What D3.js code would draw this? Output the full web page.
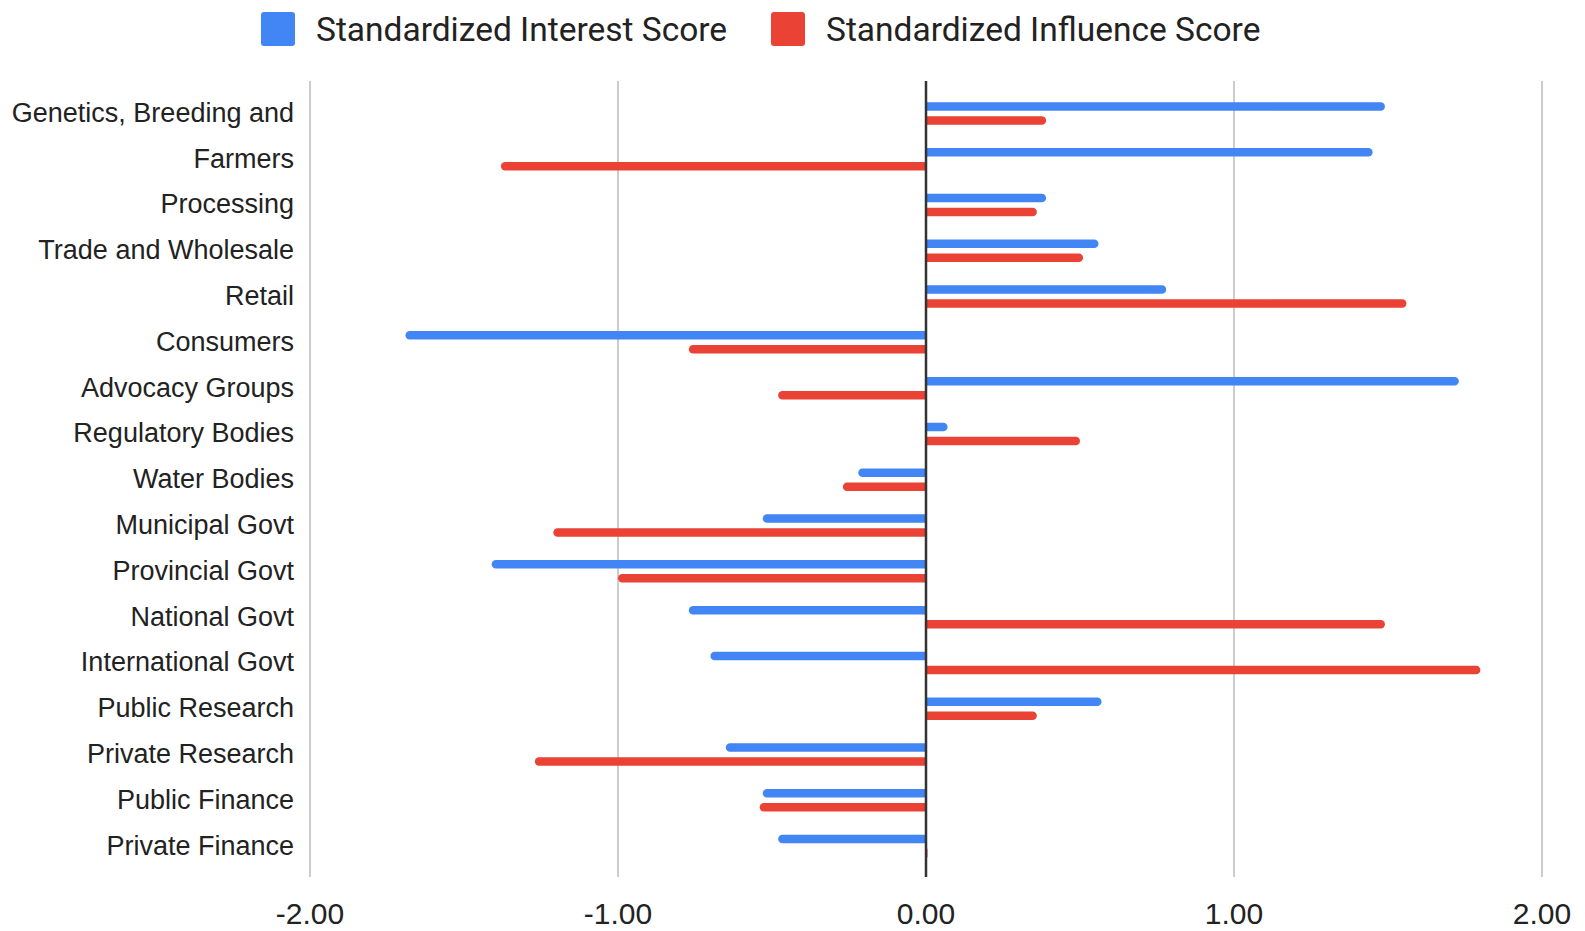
<!DOCTYPE html>
<html>
<head>
<meta charset="utf-8">
<script src="https://cdn.jsdelivr.net/npm/d3@7"></script>
<style>
  body { margin: 0; background: #fff; }
  svg { display: block; }
</style>
</head>
<body>
<div id="chart"></div>
<script>
var categories = ["Genetics, Breeding and", "Farmers", "Processing", "Trade and Wholesale",
  "Retail", "Consumers", "Advocacy Groups", "Regulatory Bodies", "Water Bodies",
  "Municipal Govt", "Provincial Govt", "National Govt", "International Govt",
  "Public Research", "Private Research", "Public Finance", "Private Finance"];
var interestScores = [1.49, 1.45, 0.39, 0.56, 0.78, -1.69, 1.73, 0.07, -0.22,
  -0.53, -1.41, -0.77, -0.70, 0.57, -0.65, -0.53, -0.48];
var influenceScores = [0.39, -1.38, 0.36, 0.51, 1.56, -0.77, -0.48, 0.50, -0.27,
  -1.21, -1.00, 1.49, 1.80, 0.36, -1.27, -0.54, 0.00];
var xTicks = [-2, -1, 0, 1, 2];
var seriesNames = ["Standardized Interest Score", "Standardized Influence Score"];
var seriesColors = ["#4285f4", "#ea4335"];

var width = 1585, height = 931;
var svg = d3.select("#chart").append("svg")
    .attr("width", width)
    .attr("height", height);

var x = d3.scaleLinear().domain([-2, 2]).range([310, 1542]);
var y = d3.scaleBand().domain(categories).range([90.5, 869]);

var gridTop = 81, gridBottom = 877;
var barH = 8.5, barOff = 7;

// grid lines
svg.append("g").selectAll("line")
  .data(xTicks.filter(function(d) { return d !== 0; }))
  .enter().append("line")
    .attr("x1", function(d) { return x(d); })
    .attr("x2", function(d) { return x(d); })
    .attr("y1", gridTop)
    .attr("y2", gridBottom)
    .attr("stroke", "#cccccc")
    .attr("stroke-width", 2);

// bar with rounded outer end
function barPath(v, cy) {
  var x0 = x(0), x1 = x(v), r = barH / 2;
  var top = cy - r, bot = cy + r;
  if (Math.abs(x1 - x0) < 1) {
    return "M" + x0 + "," + top + "h1.5v" + barH + "h-1.5Z";
  }
  var dir = x1 > x0 ? 1 : -1;
  var xe = x1 - dir * r;
  return "M" + x0 + "," + top + "L" + xe + "," + top +
    "A" + r + "," + r + " 0 0 " + (dir > 0 ? 1 : 0) + " " + xe + "," + bot +
    "L" + x0 + "," + bot + "Z";
}

var series = [interestScores, influenceScores];
series.forEach(function(vals, si) {
  svg.append("g").selectAll("path")
    .data(vals)
    .enter().append("path")
      .attr("d", function(d, i) {
        var cy = y(categories[i]) + y.bandwidth() / 2 + (si === 0 ? -barOff : barOff);
        return barPath(d, cy);
      })
      .attr("fill", seriesColors[si]);
});

// zero line
svg.append("line")
  .attr("x1", x(0)).attr("x2", x(0))
  .attr("y1", gridTop).attr("y2", gridBottom)
  .attr("stroke", "#333333")
  .attr("stroke-width", 2.5);

// category labels
svg.append("g").selectAll("text")
  .data(categories)
  .enter().append("text")
    .attr("x", 294)
    .attr("y", function(d) { return y(d) + y.bandwidth() / 2 - 1; })
    .attr("dy", "0.35em")
    .attr("text-anchor", "end")
    .attr("fill", "#222")
    .style("font-family", "'Liberation Sans', Arial, sans-serif")
    .style("font-size", "27px")
    .text(function(d) { return d; });

// x tick labels
svg.append("g").selectAll("text")
  .data(xTicks)
  .enter().append("text")
    .attr("x", function(d) { return x(d); })
    .attr("y", 913)
    .attr("dy", "0.35em")
    .attr("text-anchor", "middle")
    .attr("fill", "#222")
    .style("font-family", "'Liberation Sans', Arial, sans-serif")
    .style("font-size", "30px")
    .text(function(d) { return d.toFixed(2); });

// legend
var legendX = [261, 771];
seriesNames.forEach(function(name, i) {
  svg.append("rect")
    .attr("x", legendX[i])
    .attr("y", 12)
    .attr("width", 34)
    .attr("height", 34)
    .attr("rx", 3)
    .attr("fill", seriesColors[i]);
  svg.append("text")
    .attr("x", legendX[i] + 55)
    .attr("y", 29)
    .attr("dy", "0.35em")
    .attr("fill", "#222")
    .style("font-family", "Roboto, Arial, sans-serif")
    .style("font-size", "33.5px")
    .text(name);
});
</script>
</body>
</html>
